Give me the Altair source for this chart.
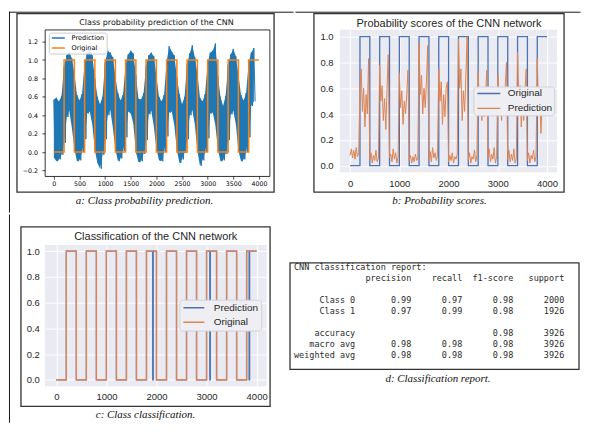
import altair as alt
import pandas as pd

# ---------------------------------------------------------------- data
ORIG_X = [0, 200, 400, 600, 800, 1000, 1200, 1400, 1600, 1800, 2000,
          2200, 2400, 2600, 2800, 3000, 3200, 3400, 3600, 3800, 4000]
ORIG_Y = [0, 1, 0, 1, 0, 1, 0, 1, 0, 1, 0, 1, 0, 1, 0, 1, 0, 1, 0, 1, 1]

# panel a: envelope of the (very dense) CNN probability trace, every 50 samples
PRED_A_STEP = 50
PRED_A_UPPER = [
    0.57, 0.59, 0.55, 0.61, 0.93, 1.05, 1.09, 1.02,
    0.86, 0.62, 0.56, 0.63, 0.96, 1.08, 1.12, 1.05,
    0.80, 0.60, 0.52, 0.60, 0.97, 1.10, 1.08, 1.03,
    0.82, 0.64, 0.56, 0.62, 0.95, 1.06, 1.10, 1.07,
    0.84, 0.58, 0.57, 0.64, 0.94, 1.05, 1.08, 1.04,
    0.83, 0.60, 0.55, 0.62, 0.98, 1.15, 1.09, 1.05,
    0.81, 0.63, 0.52, 0.60, 0.96, 1.07, 1.16, 1.03,
    0.85, 0.59, 0.55, 0.63, 0.97, 1.08, 1.10, 1.18,
    0.82, 0.60, 0.50, 0.61, 0.95, 1.06, 1.12, 1.04,
    0.84, 0.62, 0.56, 0.64, 0.97, 1.08, 1.13,
]
PRED_A_LOWER = [
    -0.06, -0.10, -0.08, -0.03, 0.10, 0.38, 0.45, 0.27,
    0.04, -0.10, -0.09, 0.00, 0.14, 0.42, 0.44, 0.30,
    0.02, -0.12, -0.18, -0.03, 0.14, 0.40, 0.46, 0.27,
    0.03, -0.10, -0.07, 0.01, 0.16, 0.44, 0.42, 0.31,
    0.00, -0.11, -0.10, -0.02, 0.13, 0.41, 0.45, 0.28,
    0.04, -0.09, -0.10, 0.00, 0.17, 0.43, 0.44, 0.29,
    0.02, -0.12, -0.08, -0.01, 0.14, 0.40, 0.46, 0.30,
    0.01, -0.15, -0.09, 0.00, 0.15, 0.42, 0.43, 0.29,
    0.03, -0.10, -0.09, -0.02, 0.13, 0.41, 0.45, 0.30,
    0.02, -0.10, -0.08, 0.00, 0.16, 0.50, 0.55,
]

PRED_B_STEP = 25
PRED_B = [
    0.08, 0.13, 0.06, 0.12, 0.05, 0.14, 0.07, 0.10, 0.60, 0.75, 0.42, 0.60, 0.30, 0.55, 0.40, 0.83,
    0.05, 0.10, 0.02, 0.08, 0.04, 0.12, 0.03, 0.06, 0.78, 0.50, 0.62, 0.35, 0.52, 0.28, 0.60, 0.86,
    0.06, 0.09, 0.03, 0.13, 0.05, 0.10, 0.02, 0.07, 0.72, 0.45, 0.58, 0.32, 0.50, 0.40, 0.55, 0.74,
    0.04, 0.08, 0.02, 0.07, 0.03, 0.09, 0.04, 0.06, 0.95, 0.55, 0.70, 0.40, 0.60, 0.45, 0.65, 0.93,
    0.05, 0.11, 0.03, 0.14, 0.06, 0.10, 0.04, 0.08, 0.75, 0.50, 0.65, 0.32, 0.55, 0.38, 0.60, 0.65,
    0.03, 0.08, 0.04, 0.10, 0.02, 0.07, 0.05, 0.09, 0.98, 0.60, 0.75, 0.35, 0.58, 0.42, 0.70, 1.00,
    0.04, 0.10, 0.02, 0.07, 0.05, 0.12, 0.03, 0.08, 0.73, 0.45, 0.60, 0.35, 0.52, 0.38, 0.55, 0.74,
    0.06, 0.13, 0.03, 0.09, 0.05, 0.14, 0.02, 0.07, 0.70, 0.50, 0.60, 0.35, 0.55, 0.40, 0.62, 0.80,
    0.05, 0.12, 0.03, 0.09, 0.04, 0.13, 0.02, 0.06, 0.88, 0.50, 0.62, 0.30, 0.50, 0.35, 0.58, 0.75,
    0.04, 0.10, 0.02, 0.08, 0.05, 0.12, 0.03, 0.07, 0.83, 0.45, 0.60, 0.25, 0.50, 0.60,
]

PRED_C_X = [0, 200, 400, 600, 800, 1000, 1200, 1400, 1600, 1800, 1925, 1935, 2000,
            2200, 2400, 2600, 2800, 3000, 3065, 3075, 3200, 3400, 3600, 3800, 3850, 3860, 4000]
PRED_C_Y = [0, 1, 0, 1, 0, 1, 0, 1, 0, 1, 0, 1, 0,
            1, 0, 1, 0, 1, 0, 1, 0, 1, 0, 1, 0, 1, 1]

A_XTICKS = [0, 500, 1000, 1500, 2000, 2500, 3000, 3500, 4000]
A_YTICKS = [-0.2, 0.0, 0.2, 0.4, 0.6, 0.8, 1.0, 1.2]
BC_XTICKS = [0, 1000, 2000, 3000, 4000]
BC_YTICKS = [0.0, 0.2, 0.4, 0.6, 0.8, 1.0]

TITLE_A = "Class probability prediction of the CNN"
TITLE_B = "Probability scores of the CNN network"
TITLE_C = "Classification of the CNN network"
CAPTION_A = "a: Class probability prediction."
CAPTION_B = "b: Probability scores."
CAPTION_C = "c: Class classification."
CAPTION_D = "d: Classification report."

REPORT_TITLE = "CNN classification report:"
REPORT_HEADERS = ["precision", "recall", "f1-score", "support"]
REPORT_NAMES = ["Class 0", "Class 1"]
REPORT_PRECISION = [0.99, 0.97]
REPORT_RECALL = [0.97, 0.99]
REPORT_F1 = [0.98, 0.98]
REPORT_SUPPORT = [2000, 1926]
REPORT_ACCURACY = 0.98
REPORT_MACRO = [0.98, 0.98, 0.98]
REPORT_WEIGHTED = [0.98, 0.98, 0.98]
REPORT_TOTAL = 3926

# ---------------------------------------------------------------- layout (page px)
CELL_A = (8, 8, 294, 212)
CELL_B = (294, 8, 581, 212)
CELL_C = (8, 212, 280, 422)
CELL_D = (280, 212, 581, 422)

PLOT_A = (44, 28, 269.5, 175)
PLOT_B = (339, 28, 557, 171)
PLOT_C = (44, 243, 266.5, 384.75)
PLOT_D = (290, 243, 580, 368)

FRAME_A = (16, 12, 274, 191)
FRAME_B = (313, 12, 564, 191)
FRAME_C = (20, 225, 270, 405)
FRAME_D = (290, 261, 580, 368)

# pixel anchors (value, page px), used to set domains
A_XANCH = ((0, 53.0), (4000, 258.8))
A_YANCH = ((0.0, 150.8), (1.2, 40.0))
B_XANCH = ((0, 349.3), (4000, 547.0))
B_YANCH = ((0.0, 164.5), (1.0, 35.0))
C_XANCH = ((0, 55.5), (4000, 256.5))
C_YANCH = ((0.0, 378.3), (1.0, 249.3))


def xdomain(plot, anch):
    (v0, p0), (v1, p1) = anch
    k = (p1 - p0) / (v1 - v0)
    return [v0 - (p0 - plot[0]) / k, v1 + (plot[2] - p1) / k]


def ydomain(plot, anch):
    (v0, p0), (v1, p1) = anch
    k = (p0 - p1) / (v1 - v0)
    return [v0 - (plot[3] - p0) / k, v1 + (p1 - plot[1]) / k]


MPL = "DejaVu Sans"
SNS = "Liberation Sans"
CAP = "Liberation Serif"
MONO = "DejaVu Sans Mono"

ONE = pd.DataFrame({"k": [0]})


def rect_layer(box, o, **kw):
    return alt.Chart(ONE).mark_rect(**kw).encode(
        x=alt.value(box[0] - o[0]), x2=alt.value(box[2] - o[0]),
        y=alt.value(box[1] - o[1]), y2=alt.value(box[3] - o[1]))


def hrule(x0, x1, y, o):
    return alt.Chart(ONE).mark_rule(color="#1a1a1a", strokeWidth=1).encode(
        x=alt.value(x0 - o[0]), x2=alt.value(x1 - o[0]), y=alt.value(y - o[1]))


def vrule(x, y0, y1, o):
    return alt.Chart(ONE).mark_rule(color="#1a1a1a", strokeWidth=1).encode(
        x=alt.value(x - o[0]), y=alt.value(y0 - o[1]), y2=alt.value(y1 - o[1]))


def text_layer(txt, xy, o, font, size, color, italic=False):
    kw = dict(text=txt, font=font, fontSize=size, color=color,
              align="center", baseline="middle")
    if italic:
        kw["fontStyle"] = "italic"
    return alt.Chart(ONE).mark_text(**kw).encode(
        x=alt.value(xy[0] - o[0]), y=alt.value(xy[1] - o[1]))


def deco(cell, frame, o):
    return [
        rect_layer(cell, o, opacity=0),
        rect_layer(frame, o, filled=False, stroke="#333333", strokeWidth=1.3),
    ]


def size_of(plot):
    return dict(width=plot[2] - plot[0], height=plot[3] - plot[1])


# ---------------------------------------------------------------- panel a
oa = PLOT_A[:2]
df_orig = pd.DataFrame({"x": ORIG_X, "y": ORIG_Y})
df_orig["series"] = "Original"
xs_a = [i * PRED_A_STEP for i in range(len(PRED_A_UPPER))]
df_band = pd.DataFrame({"x": xs_a, "y": PRED_A_LOWER, "y2": PRED_A_UPPER})
zz_x, zz_y = [], []
for xv, up, lo in zip(xs_a, PRED_A_UPPER, PRED_A_LOWER):
    zz_x += [xv, xv + PRED_A_STEP // 2]
    zz_y += [up, lo]
df_zz = pd.DataFrame({"x": zz_x, "y": zz_y})
df_zz["series"] = "Prediction"

ax_a = dict(title=None, grid=False, domain=False, ticks=True, tickSize=3,
            tickColor="black", tickWidth=0.7, labelFont=MPL, labelFontSize=6.3,
            labelColor="black", labelFlush=False, labelOverlap=False)
x_a = alt.X("x:Q", scale=alt.Scale(domain=xdomain(PLOT_A, A_XANCH), nice=False, zero=False),
            axis=alt.Axis(values=A_XTICKS, format="d", labelPadding=1.5, **ax_a))
y_a = alt.Y("y:Q", scale=alt.Scale(domain=ydomain(PLOT_A, A_YANCH), nice=False, zero=False),
            axis=alt.Axis(values=A_YTICKS, format=".1f", labelPadding=4.5, **ax_a))
leg_a = alt.Legend(orient="none", legendX=48 - oa[0], legendY=31 - oa[1], title=None,
                   padding=1.5, symbolType="stroke", symbolSize=169, symbolStrokeWidth=1.5,
                   symbolOffset=0.5, labelOffset=5.8, labelFont=MPL, labelFontSize=6.6,
                   labelColor="black", clipHeight=8, rowPadding=2,
                   fillColor="rgba(255,255,255,0.85)", strokeColor="#cccccc", cornerRadius=2)
col_a = alt.Color("series:N", scale=alt.Scale(domain=["Prediction", "Original"],
                                                range=["#1f77b4", "#ff7f0e"]), legend=leg_a)

panel_a = alt.layer(
    *deco(CELL_A, FRAME_A, oa),
    hrule(8, 293.5, 10.5, oa),
    vrule(8.5, 10, 211.5, oa),
    text_layer(TITLE_A, (156, 21), oa, MPL, 8, "#111111"),
    text_layer(CAPTION_A, (144, 200), oa, CAP, 11, "#111111", italic=True),
    alt.Chart(df_band).mark_area(color="#1f77b4", opacity=1).encode(x=x_a, y=y_a, y2="y2:Q"),
    alt.Chart(df_zz).mark_line(strokeWidth=1.0).encode(x=x_a, y=y_a, color=col_a),
    alt.Chart(df_orig).mark_line(strokeWidth=1.5, interpolate="step-after").encode(
        x=x_a, y=y_a, color=col_a),
).properties(**size_of(PLOT_A),
             view=alt.ViewBackground(fill="white", stroke="black", strokeWidth=0.8))


# ---------------------------------------------------------------- seaborn axes
def sns_axes(plot, xanch, yanch, y_pad, x_pad):
    base = dict(title=None, grid=True, gridColor="white", gridWidth=1, domain=False,
                ticks=False, tickSize=0, labelFont=SNS, labelFontSize=9.5,
                labelColor="#262626", labelFlush=False, labelOverlap=False)
    xx = alt.X("x:Q", scale=alt.Scale(domain=xdomain(plot, xanch), nice=False, zero=False),
               axis=alt.Axis(values=BC_XTICKS, format="d", labelPadding=x_pad, **base))
    yy = alt.Y("y:Q", scale=alt.Scale(domain=ydomain(plot, yanch), nice=False, zero=False),
               axis=alt.Axis(values=BC_YTICKS, format=".1f", labelPadding=y_pad, **base))
    return xx, yy


def sns_legend(lx, ly, pad, sym_len, sym_off, lab_off, clip_h, row_pad):
    return alt.Legend(orient="none", legendX=lx, legendY=ly, title=None, padding=pad,
                      symbolType="stroke", symbolSize=sym_len * sym_len, symbolStrokeWidth=1.5,
                      symbolOffset=sym_off, labelOffset=lab_off, labelFont=SNS,
                      labelFontSize=10, labelColor="#262626", clipHeight=clip_h,
                      rowPadding=row_pad, fillColor="#EEEEF3", strokeColor="#d2d2da",
                      cornerRadius=3)


# ---------------------------------------------------------------- panel b
ob = PLOT_B[:2]
df_pb = pd.DataFrame({"x": [i * PRED_B_STEP for i in range(len(PRED_B))], "y": PRED_B})
df_pb["series"] = "Prediction"
x_b, y_b = sns_axes(PLOT_B, B_XANCH, B_YANCH, 6.8, 6.2)
col_b = alt.Color("series:N", scale=alt.Scale(domain=["Original", "Prediction"],
                                                range=["#4C72B0", "#DD8452"]),
                  legend=sns_legend(473 - ob[0], 85 - ob[1], 1.5, 23, 1.5, 6.5, 11, 4))
panel_b = alt.layer(
    *deco(CELL_B, FRAME_B, ob),
    hrule(294.5, 580.5, 10.5, ob),
    text_layer(TITLE_B, (448.5, 22), ob, SNS, 11, "#262626"),
    text_layer(CAPTION_B, (439, 200), ob, CAP, 11, "#111111", italic=True),
    alt.Chart(df_orig).mark_line(strokeWidth=1.3, interpolate="step-after").encode(
        x=x_b, y=y_b, color=col_b),
    alt.Chart(df_pb).mark_line(strokeWidth=1.0).encode(x=x_b, y=y_b, color=col_b),
).properties(**size_of(PLOT_B), view=alt.ViewBackground(fill="#EAEAF2", strokeWidth=0))

# ---------------------------------------------------------------- panel c
oc = PLOT_C[:2]
df_pc = pd.DataFrame({"x": PRED_C_X, "y": PRED_C_Y})
df_pc["series"] = "Prediction"
x_c, y_c = sns_axes(PLOT_C, C_XANCH, C_YANCH, 5.5, 5.7)
col_c = alt.Color("series:N", scale=alt.Scale(domain=["Prediction", "Original"],
                                                range=["#4C72B0", "#DD8452"]),
                  legend=sns_legend(179 - oc[0], 298 - oc[1], 2.5, 21, 0.5, 8.5, 11, 3.5))
panel_c = alt.layer(
    *deco(CELL_C, FRAME_C, oc),
    vrule(8.5, 212.5, 421.5, oc),
    text_layer(TITLE_C, (155.3, 235), oc, SNS, 11, "#262626"),
    text_layer(CAPTION_C, (145, 414), oc, CAP, 11, "#111111", italic=True),
    alt.Chart(df_pc).mark_line(strokeWidth=1.3, interpolate="step-after").encode(
        x=x_c, y=y_c, color=col_c),
    alt.Chart(df_orig).mark_line(strokeWidth=1.3, interpolate="step-after").encode(
        x=x_c, y=y_c, color=col_c),
).properties(**size_of(PLOT_C), view=alt.ViewBackground(fill="#EAEAF2", strokeWidth=0))

# ---------------------------------------------------------------- panel d
od = PLOT_D[:2]
lines = [REPORT_TITLE,
         f"{'':>12s} " + "".join(f" {h:>9}" for h in REPORT_HEADERS)]
rows = [0, 1]
for i, name in enumerate(REPORT_NAMES):
    lines.append(f"{name:>12s} " + f" {REPORT_PRECISION[i]:>9.2f}" + f" {REPORT_RECALL[i]:>9.2f}"
                 + f" {REPORT_F1[i]:>9.2f}" + f" {REPORT_SUPPORT[i]:>9}")
    rows.append(3 + i)
lines.append(f"{'accuracy':>12s} " + f" {'':>9}" * 2 + f" {REPORT_ACCURACY:>9.2f}"
             + f" {REPORT_TOTAL:>9}")
rows.append(6)
for k, (name, vals) in enumerate([("macro avg", REPORT_MACRO), ("weighted avg", REPORT_WEIGHTED)]):
    lines.append(f"{name:>12s} " + "".join(f" {v:>9.2f}" for v in vals) + f" {REPORT_TOTAL:>9}")
    rows.append(7 + k)
df_rep = pd.DataFrame({"row": rows,
                       "txt": ["\u200b" + s.replace(" ", "\u00a0") for s in lines]})

panel_d = alt.layer(
    *deco(CELL_D, FRAME_D, od),
    text_layer(CAPTION_D, (438.5, 378), od, CAP, 11, "#111111", italic=True),
    alt.Chart(df_rep).mark_text(font=MONO, fontSize=8.5, color="#2a2a2a", align="left",
                                baseline="middle").encode(
        x=alt.value(294 - od[0]),
        y=alt.Y("row:Q", scale=alt.Scale(domain=[0, 8], range=[265.5 - od[1], 353.5 - od[1]]),
                axis=None),
        text="txt:N"),
).properties(**size_of(PLOT_D), view=alt.ViewBackground(fill="white", strokeWidth=0))


# ---------------------------------------------------------------- assemble
def indep(c):
    return c.resolve_scale(x="independent", y="independent", color="independent") \
            .resolve_legend(color="independent")


row1 = indep(alt.hconcat(panel_a, panel_b, spacing=0))
row2 = indep(alt.hconcat(panel_c, panel_d, spacing=0))
chart = indep(alt.vconcat(row1, row2, spacing=0, padding=0)).configure_view(strokeWidth=0)

chart.save("out.html", embed_options={"renderer": "svg", "actions": False})
